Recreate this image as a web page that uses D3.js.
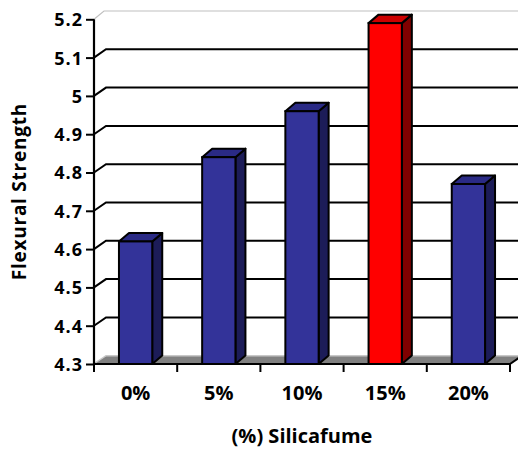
<!DOCTYPE html>
<html>
<head>
<meta charset="utf-8">
<script src="https://cdn.jsdelivr.net/npm/d3@7"></script>
<style>
  html, body { margin: 0; padding: 0; background: #fff; }
  svg { display: block; }
  text { font-family: "Open Sans", "Noto Sans", sans-serif; font-weight: bold; fill: #000; }
</style>
</head>
<body>
<svg id="chart" width="518" height="450"></svg>
<script>
// ---- data ----
const categories = ["0%", "5%", "10%", "15%", "20%"];
const values = [4.62, 4.84, 4.96, 5.19, 4.77];
const highlight = [false, false, false, true, false];
const yTicks = [4.3, 4.4, 4.5, 4.6, 4.7, 4.8, 4.9, 5.0, 5.1, 5.2];
const yTitle = "Flexural Strength";
const xTitle = "(%) Silicafume";

// ---- layout ----
const W = 518, H = 450;
const pLeft = 94, pRight = 510, pTop = 19.3, pBottom = 364;
const wdx = 12, wdy = 8.3;   // wall depth offset
const bdx = 10, bdy = 8.5;   // bar depth offset

const svg = d3.select("#chart");

const x = d3.scaleBand().domain(categories).range([pLeft, pRight]).paddingInner(0).paddingOuter(0);
const y = d3.scaleLinear().domain([4.3, 5.2]).range([pBottom, pTop]);

const blue = { front: "#333399", side: "#1c1c58", top: "#2a2a85" };
const red = { front: "#ff0000", side: "#800000", top: "#cc0000" };
const pts = a => a.map(p => p.join(",")).join(" ");

// floor
const y0 = y(4.3);
svg.append("polygon")
  .attr("points", pts([[pLeft, y0], [pLeft + wdx, y0 - wdy], [pRight + wdx, y0 - wdy], [pRight, y0]]))
  .attr("fill", "#808080");
svg.append("polyline")
  .attr("points", pts([[pLeft + 1, y0 - 1], [pLeft + wdx, y0 - wdy], [W + 5, y0 - wdy]]))
  .attr("fill", "none").attr("stroke", "#c8c8c8").attr("stroke-width", 1.5);

// top wall edge (light grey)
const yT = y(5.2);
svg.append("polyline")
  .attr("points", pts([[pLeft, yT], [pLeft + wdx - 2, yT - wdy], [W + 5, yT - wdy]]))
  .attr("fill", "none").attr("stroke", "#c0c0c0").attr("stroke-width", 1.2);

// gridlines with diagonal ticks (back wall)
const grid = yTicks.filter(t => t > 4.3 + 1e-9 && t < 5.2 - 1e-9);
svg.append("g").selectAll("polyline").data(grid).join("polyline")
  .attr("points", d => pts([[pLeft, y(d)], [pLeft + wdx, y(d) - wdy], [W + 5, y(d) - wdy]]))
  .attr("fill", "none").attr("stroke", "#000").attr("stroke-width", 2);

// bars
const bw = x.bandwidth() * 0.4;
const bars = svg.append("g").selectAll("g").data(categories).join("g");
bars.each(function (c, i) {
  const g = d3.select(this);
  const col = highlight[i] ? red : blue;
  const cx = x(c) + x.bandwidth() / 2;
  const x0 = cx - bw / 2, x1 = cx + bw / 2;
  const yt = y(values[i]), yb = y(4.3);
  g.append("polygon")
    .attr("points", pts([[x1, yt], [x1 + bdx, yt - bdy], [x1 + bdx, yb - bdy], [x1, yb]]))
    .attr("fill", col.side).attr("stroke", "#000").attr("stroke-width", 2).attr("stroke-linejoin", "round");
  g.append("polygon")
    .attr("points", pts([[x0, yt], [x0 + bdx, yt - bdy], [x1 + bdx, yt - bdy], [x1, yt]]))
    .attr("fill", col.top).attr("stroke", "#000").attr("stroke-width", 2).attr("stroke-linejoin", "round");
  g.append("rect")
    .attr("x", x0).attr("y", yt).attr("width", bw).attr("height", yb - yt)
    .attr("fill", col.front).attr("stroke", "#000").attr("stroke-width", 2);
});

// y axis
const yAxis = svg.append("g").attr("transform", `translate(${pLeft},0)`)
  .call(d3.axisLeft(y).tickValues(yTicks).tickSize(8).tickPadding(4)
    .tickFormat(d => String(+d.toFixed(1))));
yAxis.attr("font-family", null).attr("font-size", null);
yAxis.select(".domain").attr("stroke", "#000").attr("stroke-width", 2.2).attr("d", `M0,${pTop}V${pBottom}`);
yAxis.selectAll(".tick line").attr("stroke", "#000").attr("stroke-width", 2);
yAxis.selectAll(".tick text").attr("font-size", 18).attr("letter-spacing", 1).attr("x", -11).attr("dy", "0.36em");

// x axis
const xAxis = svg.append("g").attr("transform", `translate(0,${pBottom})`)
  .call(d3.axisBottom(x).tickSize(0).tickPadding(0));
xAxis.attr("font-family", null).attr("font-size", null);
xAxis.select(".domain").remove();
xAxis.selectAll(".tick text").attr("font-size", 20).attr("y", 36).attr("dy", 0);
svg.append("line").attr("x1", pLeft).attr("x2", pRight).attr("y1", pBottom).attr("y2", pBottom)
  .attr("stroke", "#000").attr("stroke-width", 2.2);
// x tick marks at band boundaries
const bounds = categories.map(c => x(c)).concat([pRight]);
svg.append("g").selectAll("line").data(bounds).join("line")
  .attr("x1", d => d).attr("x2", d => d).attr("y1", pBottom).attr("y2", pBottom + 8)
  .attr("stroke", "#000").attr("stroke-width", 2);
// right end diagonal
svg.append("line").attr("x1", pRight).attr("y1", pBottom).attr("x2", pRight + wdx).attr("y2", pBottom - wdy)
  .attr("stroke", "#000").attr("stroke-width", 2);

// titles
svg.append("text").attr("x", (pLeft + pRight) / 2).attr("y", 443).attr("text-anchor", "middle")
  .attr("font-size", 20).text(xTitle);
svg.append("text").attr("transform", `translate(26,${(pTop + pBottom) / 2}) rotate(-90)`)
  .attr("text-anchor", "middle").attr("font-size", 19).attr("letter-spacing", 0.75).text(yTitle);
</script>
</body>
</html>
